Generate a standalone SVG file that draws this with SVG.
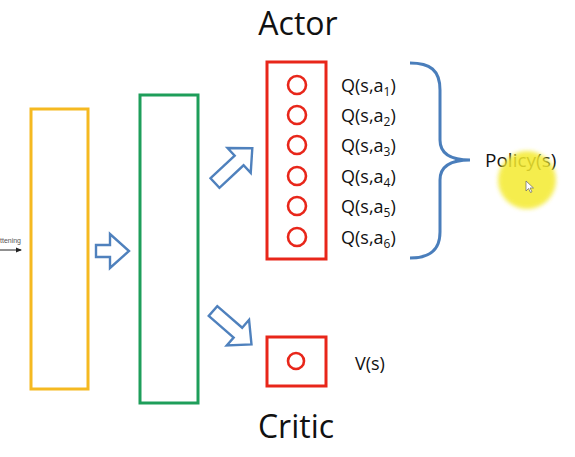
<svg xmlns="http://www.w3.org/2000/svg" width="575" height="457" viewBox="0 0 575 457">
<defs>
<style>
.lbl{font-family:"Open Sans","Liberation Sans",sans-serif;fill:#111;}
.q{font-size:18px;}
.big{font-size:32px;}
.layer{fill:#fff;stroke-width:3;}
.neuron{fill:#fff;stroke:#e8261a;stroke-width:2.6;}
.blk{fill:#fff;stroke:#4f81bd;stroke-width:2.4;stroke-linejoin:miter;}
</style>
<marker id="ah" markerWidth="6" markerHeight="6" refX="5" refY="3" orient="auto" markerUnits="userSpaceOnUse">
<path d="M0,0.5 L6,3 L0,5.5 Z" fill="#222"/>
</marker>
<filter id="soft" x="-30%" y="-30%" width="160%" height="160%"><feGaussianBlur stdDeviation="2"/></filter>
</defs>
<rect width="575" height="457" fill="#fff"/>

<text class="lbl big" x="298" y="35" text-anchor="middle">Actor</text>
<text class="lbl big" x="296" y="438" text-anchor="middle">Critic</text>

<g id="flatten">
<text x="0" y="243" font-family="Liberation Sans,sans-serif" font-size="7" fill="#555">ttening</text>
<line x1="0" y1="250" x2="21" y2="250" stroke="#222" stroke-width="1" marker-end="url(#ah)"/>
</g>

<g id="layer-flat"><rect class="layer" x="31" y="109" width="57" height="280" stroke="#f5b921"/></g>
<g id="layer-hidden"><rect class="layer" x="140" y="95" width="58" height="308" stroke="#1e9e5a"/></g>

<g id="actor">
<rect class="layer" x="267" y="62" width="59" height="197" stroke="#e8261a"/>
<circle class="neuron" cx="297" cy="85" r="9"/>
<circle class="neuron" cx="297" cy="115" r="9"/>
<circle class="neuron" cx="297" cy="145" r="9"/>
<circle class="neuron" cx="297" cy="176" r="9"/>
<circle class="neuron" cx="297" cy="206" r="9"/>
<circle class="neuron" cx="297" cy="237" r="9"/>
</g>

<g id="q-labels" class="lbl q">
<text x="341" y="92">Q(s,a<tspan font-size="12" dy="4">1</tspan><tspan dy="-4">)</tspan></text>
<text x="341" y="122">Q(s,a<tspan font-size="12" dy="4">2</tspan><tspan dy="-4">)</tspan></text>
<text x="341" y="152">Q(s,a<tspan font-size="12" dy="4">3</tspan><tspan dy="-4">)</tspan></text>
<text x="341" y="183">Q(s,a<tspan font-size="12" dy="4">4</tspan><tspan dy="-4">)</tspan></text>
<text x="341" y="213">Q(s,a<tspan font-size="12" dy="4">5</tspan><tspan dy="-4">)</tspan></text>
<text x="341" y="244">Q(s,a<tspan font-size="12" dy="4">6</tspan><tspan dy="-4">)</tspan></text>
</g>

<g id="critic">
<rect class="layer" x="267" y="337" width="59" height="49" stroke="#e8261a"/>
<circle class="neuron" cx="296" cy="361" r="8"/>
</g>
<text class="lbl" x="355" y="370" font-size="18">V(s)</text>

<g id="policy">
<text class="lbl" x="485" y="167" font-size="19">Policy(s)</text>
</g>

<g id="connectors">
<path class="blk" d="M96,245 L110,245 L110,234 L129,251 L110,268 L110,257 L96,257 Z"/>
<path class="blk" transform="translate(215,183) rotate(-43)" d="M0,-6.5 L33,-6.5 L33,-17 L51,0 L33,17 L33,6.5 L0,6.5 Z"/>
<path class="blk" transform="translate(213,311) rotate(41)" d="M0,-6.5 L33,-6.5 L33,-17 L51,0 L33,17 L33,6.5 L0,6.5 Z"/>
<path d="M410,63 C430,63 440,70 440,90 L440,140 C440,153 450,160 470,160 C450,160 440,167 440,180 L440,232 C440,250 430,258 410,258" fill="none" stroke="#4a7ebb" stroke-width="3"/>
</g>

<g id="highlight">
<circle cx="527" cy="180" r="29" fill="#f4ea2e" opacity="0.85" filter="url(#soft)"/>
<path d="M526,181 L526,191 L528.5,188.5 L530.5,192.5 L532,191.8 L530,188 L533.5,188 Z" fill="#fff" stroke="#666" stroke-width="0.7"/>
</g>
</svg>
